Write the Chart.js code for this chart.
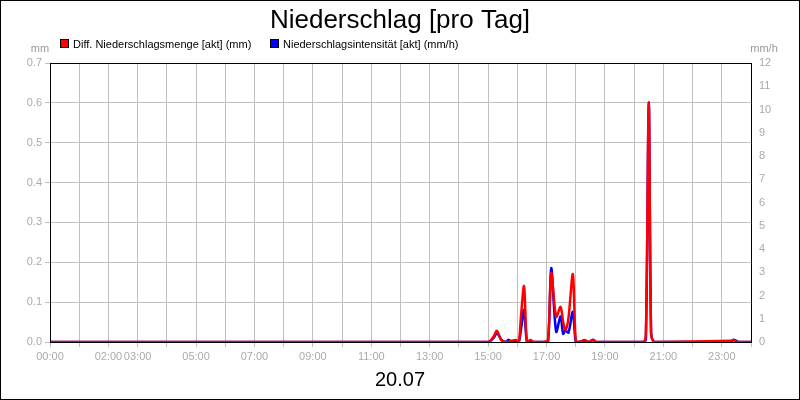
<!DOCTYPE html><html><head><meta charset="utf-8">
<script src="https://cdn.jsdelivr.net/npm/chart.js@4/dist/chart.umd.min.js"></script>
<style>html,body{margin:0;padding:0;background:#fff}#w{width:800px;height:400px;position:relative}</style></head>
<body><div id="w"><canvas id="c" width="800" height="400"></canvas></div>
<script>
const times=[0,15.0,15.2,15.3,15.45,15.6,15.7,15.8,15.95,16.05,16.12,16.23,16.33,16.45,16.55,16.9,17.05,17.16,17.33,17.48,17.57,17.65,17.75,17.9,18.0,18.1,18.3,18.45,18.6,18.7,20.3,20.4,20.5,20.58,20.67,20.8,23.3,23.4,23.5,23.6,24];
const redMm=[0,0,0.015,0.028,0.005,0,0,0.003,0.005,0,0.06,0.14,0,0.005,0,0,0.005,0.173,0.063,0.088,0.05,0.03,0.06,0.17,0.005,0,0.005,0,0.005,0,0,0.02,0.6,0.02,0,0,0.003,0.005,0,0,0];
const blueMmh=[0,0,0.2,0.4,0.1,0,0.1,0,0,0,0.5,1.38,0,0,0,0,0,3.18,0.44,1.1,0.35,0.5,0.4,1.3,0,0,0.05,0,0.1,0,0,0.1,10.3,0.4,0,0,0,0.1,0.05,0,0];
const xLabels={0:"00:00",2:"02:00",3:"03:00",5:"05:00",7:"07:00",9:"09:00",11:"11:00",13:"13:00",15:"15:00",17:"17:00",19:"19:00",21:"21:00",23:"23:00"};
const seriesNames=["Diff. Niederschlagsmenge [akt] (mm)","Niederschlagsintensität [akt] (mm/h)"];
const F='"Liberation Sans", Arial, sans-serif';
const deco={id:'deco',afterDraw(ch){const c=ch.ctx,a=ch.chartArea;c.save();
c.strokeStyle='#000';c.lineWidth=1;c.strokeRect(a.left+0.5,a.top+0.5,a.right-a.left,a.bottom-a.top);
c.strokeRect(0.5,0.5,799,399);
c.fillStyle='#000';c.textAlign='center';c.textBaseline='alphabetic';
c.font='26px '+F;c.fillText('Niederschlag [pro Tag]',400,28);
c.font='20px '+F;c.fillText('20.07',400,386);
c.font='11px '+F;c.fillStyle='#999';c.fillText('mm',40,52);c.fillText('mm/h',764,52);
c.textAlign='left';c.fillStyle='#000';
const items=[[60,'#ff0000'],[270,'#0000ff']];
items.forEach((it,i)=>{c.fillStyle=it[1];c.fillRect(it[0],39,9,9);c.strokeStyle='#000';c.strokeRect(it[0]+0.5,39.5,8,8);c.fillStyle='#000';c.fillText(seriesNames[i],it[0]+13,48);});
c.restore();}};
new Chart(document.getElementById('c'),{type:'line',
data:{datasets:[
{label:seriesNames[0],data:times.map((t,i)=>({x:t,y:redMm[i]})),borderColor:'#ff0000',borderWidth:2.5,pointRadius:0,tension:0.3,yAxisID:'y',order:1},
{label:seriesNames[1],data:times.map((t,i)=>({x:t,y:blueMmh[i]})),borderColor:'#0000ff',borderWidth:2.5,pointRadius:0,tension:0.3,yAxisID:'y2',order:2}]},
options:{responsive:false,animation:false,layout:{padding:{top:63,left:0,right:0,bottom:0}},
plugins:{legend:{display:false},title:{display:false},tooltip:{enabled:false}},
scales:{
x:{type:'linear',min:0,max:24,afterFit(s){s.height=58;},ticks:{stepSize:1,autoSkip:false,maxRotation:0,color:'#aaa',font:{size:11,family:F},callback:v=>xLabels[v]||''},grid:{color:'#c0c0c0',tickLength:5},border:{color:'#aaa'}},
y:{position:'left',min:0,max:0.7,afterFit(s){s.width=50;},ticks:{stepSize:0.1,color:'#aaa',font:{size:11,family:F},callback:v=>v.toFixed(1)},grid:{color:'#c0c0c0',tickLength:5},border:{color:'#000'}},
y2:{position:'right',min:0,max:12,afterFit(s){s.width=49;},ticks:{stepSize:1,color:'#aaa',font:{size:11,family:F}},grid:{display:false,tickLength:5},border:{color:'#000'}}}},
plugins:[deco]});
</script></body></html>
